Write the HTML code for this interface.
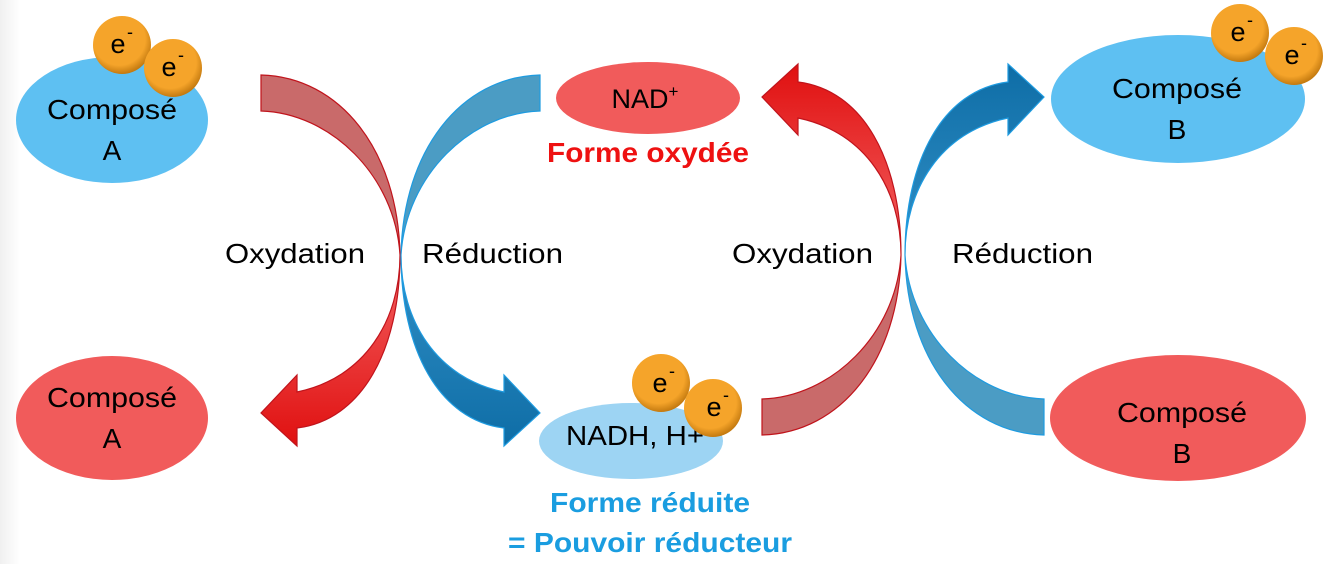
<!DOCTYPE html>
<html><head><meta charset="utf-8"><style>
html,body{margin:0;padding:0;background:#fff;}
svg{display:block;}
text{font-family:"Liberation Sans",sans-serif;}
</style></head><body>
<svg width="1334" height="564" viewBox="0 0 1334 564" xmlns="http://www.w3.org/2000/svg">
<defs>
<linearGradient id="bg" x1="0" x2="1" y1="0" y2="0"><stop offset="0" stop-color="#f0f0f0"/><stop offset="0.015" stop-color="#ffffff"/></linearGradient>
<linearGradient id="rd" x1="0" x2="0" y1="0" y2="1"><stop offset="0" stop-color="#c96a6a"/><stop offset="0.45" stop-color="#c96a6a"/><stop offset="0.6" stop-color="#ef5050"/><stop offset="1" stop-color="#e01010"/></linearGradient>
<linearGradient id="bd" x1="0" x2="0" y1="0" y2="1"><stop offset="0" stop-color="#4b9cc4"/><stop offset="0.45" stop-color="#4b9cc4"/><stop offset="0.6" stop-color="#2a88bf"/><stop offset="1" stop-color="#0e6da6"/></linearGradient>
<radialGradient id="el" cx="0.45" cy="0.4" r="0.6"><stop offset="0.75" stop-color="#f5a42a"/><stop offset="1" stop-color="#c47a10"/></radialGradient>
<g id="arrowL">
<path d="M261,75 C340,77 398,150 400,255 C400,320 365,378 297,392 L297,375 L261,413 L297,446 L297,428 C362,420 400,350 400,255 C395,175 330,113 261,111 Z"/>
</g>
</defs>
<rect width="1334" height="564" fill="url(#bg)"/>

<use href="#arrowL" fill="url(#rd)" stroke="#c0141c" stroke-width="1.2"/>
<g transform="translate(801,0) scale(-1,1)"><use href="#arrowL" fill="url(#bd)" stroke="#1e9be0" stroke-width="1.2"/></g>
<g transform="translate(501,510) scale(1,-1)"><use href="#arrowL" fill="url(#rd)" stroke="#c0141c" stroke-width="1.2"/></g>
<g transform="translate(1305,510) scale(-1,-1)"><use href="#arrowL" fill="url(#bd)" stroke="#1e9be0" stroke-width="1.2"/></g>

<g font-size="28" lengthAdjust="spacingAndGlyphs">
<!-- Compose A top -->
<ellipse cx="112" cy="120" rx="96" ry="63" fill="#5ec0f2"/>
<circle cx="122" cy="45" r="29" fill="url(#el)"/>
<text x="118" y="53" font-size="27" text-anchor="middle">e</text><text x="127" y="38" font-size="18">-</text>
<circle cx="173" cy="68" r="29" fill="url(#el)"/>
<text x="169" y="76" font-size="27" text-anchor="middle">e</text><text x="178" y="61" font-size="18">-</text>
<text x="112" y="119" text-anchor="middle" textLength="130" lengthAdjust="spacingAndGlyphs">Composé</text>
<text x="112" y="160" text-anchor="middle">A</text>

<ellipse cx="112" cy="418" rx="96" ry="62" fill="#f15b5b"/>
<text x="112" y="407" text-anchor="middle" textLength="130" lengthAdjust="spacingAndGlyphs">Composé</text>
<text x="112" y="448" text-anchor="middle">A</text>

<ellipse cx="648" cy="98" rx="92" ry="36" fill="#f15b5b"/>
<text x="645" y="108" font-size="27" text-anchor="middle">NAD<tspan font-size="17" dy="-11">+</tspan></text>
<text x="648" y="162" font-weight="bold" fill="#ee1111" text-anchor="middle" textLength="202" lengthAdjust="spacingAndGlyphs">Forme oxydée</text>

<ellipse cx="631" cy="441" rx="92" ry="38" fill="#9dd4f3"/>
<text x="635" y="445" text-anchor="middle" textLength="138" lengthAdjust="spacingAndGlyphs">NADH, H+</text>
<circle cx="661" cy="383" r="29" fill="url(#el)"/>
<text x="660" y="392" font-size="27" text-anchor="middle">e</text><text x="669" y="377" font-size="18">-</text>
<circle cx="713" cy="408" r="29" fill="url(#el)"/>
<text x="714" y="416" font-size="27" text-anchor="middle">e</text><text x="723" y="401" font-size="18">-</text>
<text x="650" y="512" font-weight="bold" fill="#1a9de0" text-anchor="middle" textLength="200" lengthAdjust="spacingAndGlyphs">Forme réduite</text>
<text x="650" y="552" font-weight="bold" fill="#1a9de0" text-anchor="middle" textLength="284" lengthAdjust="spacingAndGlyphs">= Pouvoir réducteur</text>

<ellipse cx="1178" cy="99" rx="127" ry="64" fill="#5ec0f2"/>
<circle cx="1240" cy="33" r="29" fill="url(#el)"/>
<text x="1238" y="41" font-size="27" text-anchor="middle">e</text><text x="1247" y="26" font-size="18">-</text>
<circle cx="1294" cy="56" r="29" fill="url(#el)"/>
<text x="1292" y="64" font-size="27" text-anchor="middle">e</text><text x="1301" y="49" font-size="18">-</text>
<text x="1177" y="98" text-anchor="middle" textLength="130" lengthAdjust="spacingAndGlyphs">Composé</text>
<text x="1177" y="139" text-anchor="middle">B</text>

<ellipse cx="1178" cy="418" rx="128" ry="63" fill="#f15b5b"/>
<text x="1182" y="422" text-anchor="middle" textLength="130" lengthAdjust="spacingAndGlyphs">Composé</text>
<text x="1182" y="463" text-anchor="middle">B</text>

<text x="225" y="263" textLength="140" lengthAdjust="spacingAndGlyphs">Oxydation</text>
<text x="422" y="263" textLength="141" lengthAdjust="spacingAndGlyphs">Réduction</text>
<text x="732" y="263" textLength="141" lengthAdjust="spacingAndGlyphs">Oxydation</text>
<text x="952" y="263" textLength="141" lengthAdjust="spacingAndGlyphs">Réduction</text>
</g>
</svg>
</body></html>
